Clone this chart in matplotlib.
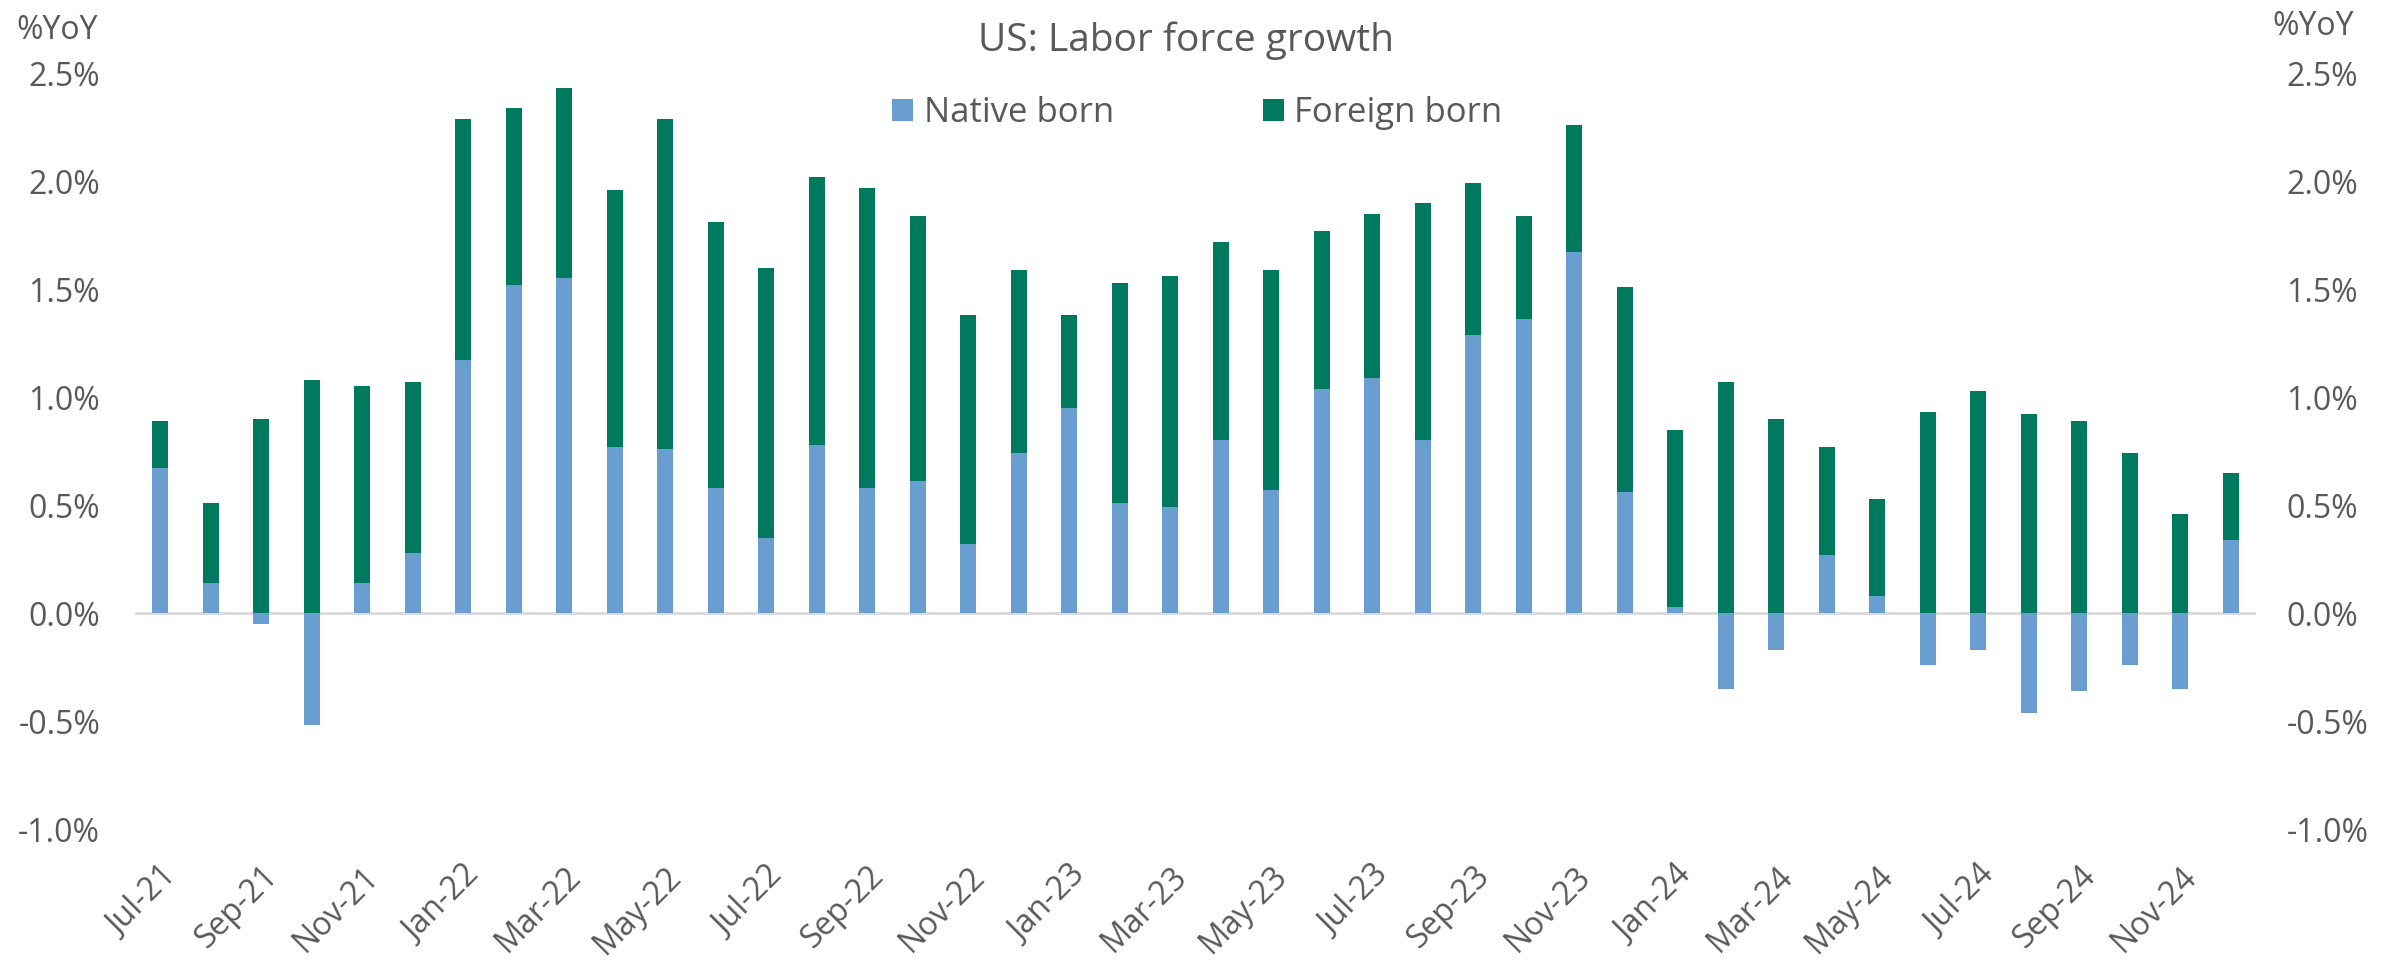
import numpy as np
import pandas as pd
import matplotlib
matplotlib.use("Agg")
import matplotlib.pyplot as plt
from matplotlib.ticker import FuncFormatter

# Dados (% YoY)
months = pd.date_range("2021-07-01", "2024-12-01", freq="MS")
month_labels = [d.strftime("%b-%y") for d in months]

native_born = [0.67, 0.14, -0.05, -0.52, 0.14, 0.28, 1.17, 1.52, 1.55, 0.77, 0.76, 0.58, 0.35,
               0.78, 0.58, 0.61, 0.32, 0.74, 0.95, 0.51, 0.49, 0.80, 0.57, 1.04, 1.09, 0.80,
               1.29, 1.36, 1.67, 0.56, 0.03, -0.35, -0.17, 0.27, 0.08, -0.24, -0.17, -0.46,
               -0.36, -0.24, -0.35, 0.34]
total_top = [0.89, 0.51, 0.90, 1.08, 1.05, 1.07, 2.29, 2.34, 2.43, 1.96, 2.29, 1.81, 1.60,
             2.02, 1.97, 1.84, 1.38, 1.59, 1.38, 1.53, 1.56, 1.72, 1.59, 1.77, 1.85, 1.90,
             1.99, 1.84, 2.26, 1.51, 0.85, 1.07, 0.90, 0.77, 0.53, 0.93, 1.03, 0.92, 0.89,
             0.74, 0.46, 0.65]

native = np.array(native_born)
top = np.array(total_top)
# Excel empilha positivos e negativos separadamente
foreign_base = np.clip(native, 0, None)
foreign_born = top - foreign_base

BLUE = "#6A9ED0"
GREEN = "#007A5E"
GREY = "#595959"

plt.rcParams['font.family'] = ['Open Sans', 'DejaVu Sans']

fig = plt.figure(figsize=(23.84, 9.63), dpi=100)
ax = fig.add_axes([0.0566, 0.139, 0.8897, 0.785])

x = np.arange(len(months))
width = 0.31
ax.bar(x, native, width=width, color=BLUE, label="Native born", zorder=2)
ax.bar(x, foreign_born, width=width, bottom=foreign_base, color=GREEN, label="Foreign born", zorder=2)

ax.axhline(0, color="#D9D9D9", linewidth=2, zorder=1)

ax.set_xlim(-0.5, len(months) - 0.5)
ax.set_ylim(-1.0, 2.5)
ax.set_yticks(np.arange(-1.0, 2.51, 0.5))
pct = FuncFormatter(lambda v, p: f"{v:.1f}%")
ax.yaxis.set_major_formatter(pct)

ax.set_xticks(x[::2])
ax.set_xticklabels(month_labels[::2], rotation=45, ha="right", rotation_mode="anchor")
ax.tick_params(axis="x", length=0, pad=22, labelsize=23, labelcolor=GREY)
ax.tick_params(axis="y", length=0, pad=25, labelsize=23, labelcolor=GREY)

for s in ax.spines.values():
    s.set_visible(False)

ax2 = ax.twinx()
ax2.set_ylim(ax.get_ylim())
ax2.set_yticks(np.arange(-1.0, 2.51, 0.5))
ax2.yaxis.set_major_formatter(pct)
ax2.tick_params(axis="y", length=0, pad=22, labelsize=23, labelcolor=GREY)
for s in ax2.spines.values():
    s.set_visible(False)

fig.text(0.4975, 0.958, "US: Labor force growth", ha="center", va="center", fontsize=28, color=GREY)
fig.text(0.007, 0.968, "%YoY", ha="left", va="center", fontsize=23, color=GREY)
fig.text(0.953, 0.972, "%YoY", ha="left", va="center", fontsize=23, color=GREY)

ax.legend(loc="center", bbox_to_anchor=(0.501, 0.947), ncol=2, frameon=False, fontsize=25,
          handlelength=0.6, handleheight=0.6, handletextpad=0.3, columnspacing=4.3,
          labelcolor=GREY)

fig.savefig("out.png", dpi=100)
